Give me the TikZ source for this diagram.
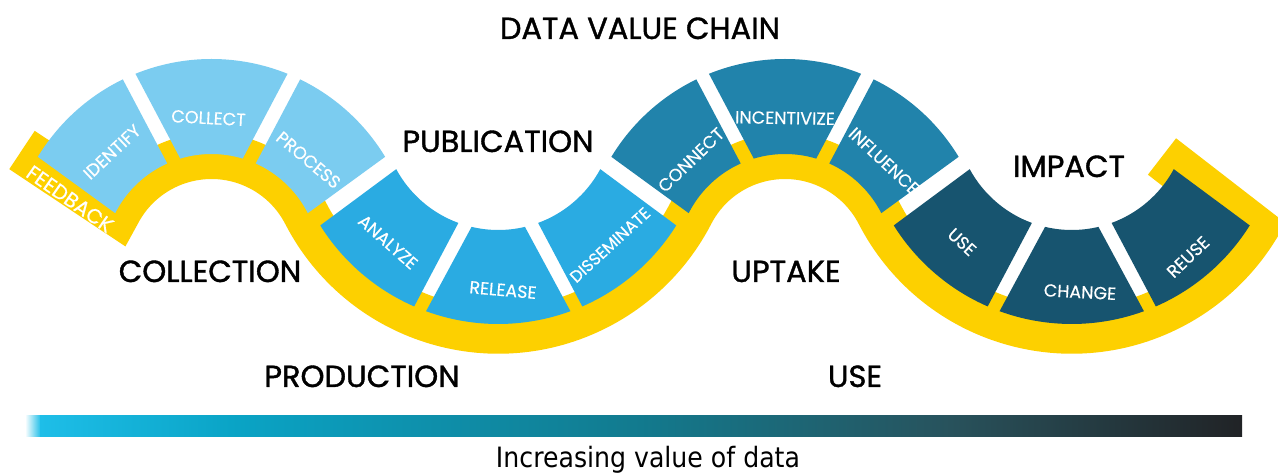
\documentclass[tikz,border=0pt]{standalone}
\usepackage{fontspec}
\setmainfont{Poppins}
\newfontfamily\segfont{Poppins}[FakeBold=0.4]
\newfontfamily\stagefont{Poppins}[FakeBold=1.2]
\newfontfamily\barfont{DejaVu Sans}
\usepackage{tikz}
\usetikzlibrary{calc}

\definecolor{bandyellow}{RGB}{253,208,0}
\definecolor{collectblue}{RGB}{123,204,240}
\definecolor{produceblue}{RGB}{42,171,226}
\definecolor{uptakeblue}{RGB}{33,131,171}
\definecolor{impactblue}{RGB}{23,84,111}
\definecolor{barA}{RGB}{30,190,232}
\definecolor{barB}{RGB}{10,164,198}
\definecolor{barC}{RGB}{18,122,142}
\definecolor{barD}{RGB}{40,82,92}
\definecolor{barE}{RGB}{33,35,38}

\newcommand{\segment}[8]{%
    \fill [fill=#8] ($(#1)+(#3:#2)$) arc [start angle=#3, end angle=#4, radius=#2]
        -- ($(#1)+(#6:#5)$) arc [start angle=#6, end angle=#7, radius=#5] -- cycle;}

\begin{document}
\begin{tikzpicture}[x=1pt, y=1pt,
        band/.style={draw=bandyellow, line width=46pt, line join=miter},
        seglabel/.style={text=white, inner sep=0pt, font=\segfont\fontsize{17.5}{19}\selectfont},
        stagelabel/.style={anchor=base, inner sep=0pt, font=\stagefont\fontsize{30.5}{34}\selectfont}]
                    \fill [white] (0,0) rectangle (1278,473);
                    \useasboundingbox (0,0) rectangle (1278,473);
                    \coordinate (c1) at (211.5,211);
                    \coordinate (c2) at (498.25,359);
                    \coordinate (c3) at (785,211);
                    \coordinate (c4) at (1071.75,359);
                    \draw [band] (22,323) -- (117.3,259.6)
                        arc [start angle=152.7, end angle=27.3, radius=106]
                        arc [start angle=207.3, end angle=332.7, radius=216.7]
                        arc [start angle=152.7, end angle=27.3, radius=106]
                        arc [start angle=207.3, end angle=328, radius=216.7]
                        -- (1162,316.5);
                    \foreach \c/\col in {c1/collectblue, c3/uptakeblue} {
                        \segment{\c}{203}{148.8}{115.9}{108}{114.2}{153.1}{\col}
                        \segment{\c}{203}{112}{68}{108}{73.2}{106.8}{\col}
                        \segment{\c}{203}{64.1}{31.2}{108}{26.9}{65.8}{\col}
                    }
                    \foreach \c/\col in {c2/produceblue, c4/impactblue} {
                        \segment{\c}{210}{212.05}{246.4}{116}{249.9}{208.4}{\col}
                        \segment{\c}{210}{249.9}{290.1}{116}{283.3}{256.7}{\col}
                        \segment{\c}{210}{293.6}{327.95}{116}{331.6}{290.1}{\col}
                    }
                    \node [seglabel, rotate=-35, font=\segfont\fontsize{20.5}{22}\selectfont] (feedback) at (70,274) {FEEDBACK};
                    \node [seglabel, rotate=43] (identify) at (112,321) {IDENTIFY};
                    \node [seglabel, rotate=-3] (collect) at (208.5,355) {COLLECT};
                    \node [seglabel, rotate=-40] (process) at (308.5,313) {PROCESS};
                    \node [seglabel, rotate=-41.5] (analyze) at (388,231) {ANALYZE};
                    \node [seglabel, rotate=-5] (release) at (503,183) {RELEASE};
                    \node [seglabel, rotate=42.5, font=\segfont\fontsize{16.5}{18}\selectfont] (disseminate) at (610,228) {DISSEMINATE};
                    \node [seglabel, rotate=44] (connect) at (691,313) {CONNECT};
                    \node [seglabel, rotate=-1] (incentivize) at (785,355) {INCENTIVIZE};
                    \node [seglabel, rotate=-43] (influence) at (884,312) {INFLUENCE};
                    \node [seglabel, rotate=-42.5] (use) at (962,231) {USE};
                    \node [seglabel, rotate=-3] (change) at (1080,181) {CHANGE};
                    \node [seglabel, rotate=43.5] (reuse) at (1188,216) {REUSE};
                    \node [stagelabel] (chain) at (640,434) {DATA VALUE CHAIN};
                    \node [stagelabel] (publication) at (498,321) {PUBLICATION};
                    \node [stagelabel] (impact) at (1069,296) {IMPACT};
                    \node [stagelabel] (collection) at (210,191) {COLLECTION};
                    \node [stagelabel] (uptake) at (786,191) {UPTAKE};
                    \node [stagelabel] (production) at (362,86) {PRODUCTION};
                    \node [stagelabel] (usestage) at (855,86) {USE};
                    \shade [left color=white, right color=barA] (25,36) rectangle (41,57);
                    \shade [left color=barA, right color=barB] (40,36) rectangle (231,57);
                    \shade [left color=barB, right color=barC] (230,36) rectangle (641,57);
                    \shade [left color=barC, right color=barD] (640,36) rectangle (951,57);
                    \shade [left color=barD, right color=barE] (950,36) rectangle (1242,57);
                    \node [anchor=base, inner sep=0pt, xscale=0.9, font=\barfont\fontsize{28}{30}\selectfont] (valuetext) at (648,5) {Increasing value of data};
                \end{tikzpicture}
\end{document}
